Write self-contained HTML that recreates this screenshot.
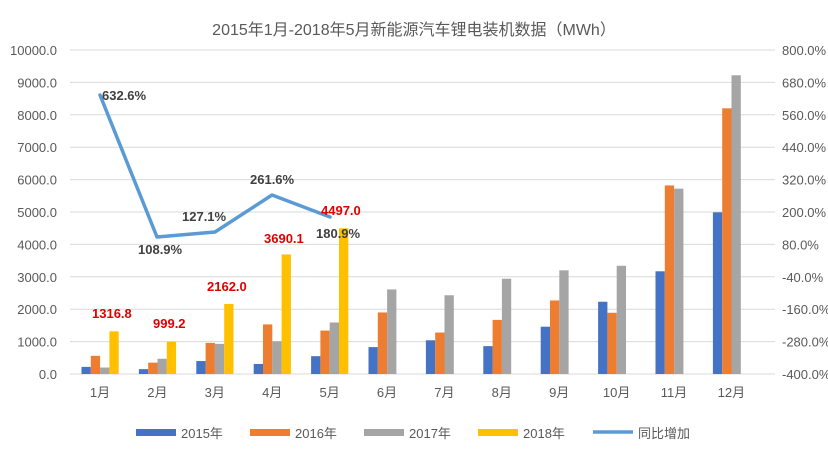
<!DOCTYPE html>
<html><head><meta charset="utf-8"><style>
body{margin:0;background:#fff}
svg text{font-family:"Liberation Sans","Noto Sans CJK SC",sans-serif}
</style></head><body>
<svg width="828" height="462" viewBox="0 0 828 462" xmlns="http://www.w3.org/2000/svg">
<rect width="828" height="462" fill="#fff"/>
<text x="414" y="35" font-size="16" fill="#595959" text-anchor="middle">2015年1月-2018年5月新能源汽车锂电装机数据（MWh）</text>
<g id="grid" stroke="#d9d9d9" stroke-width="1"></g>
<g id="bars"></g>
<g id="lab" font-size="13" fill="#595959"></g>
<polyline points="100,95 157,237 215,232 272,195 330,217" fill="none" stroke="#5b9bd5" stroke-width="3.5" stroke-linejoin="round" stroke-linecap="round"/>
<g font-size="13" font-weight="bold" fill="#404040">
<text x="102" y="100">632.6%</text>
<text x="138" y="254">108.9%</text>
<text x="182" y="221">127.1%</text>
<text x="250" y="184">261.6%</text>
<text x="316" y="238">180.9%</text>
</g>
<g font-size="13" font-weight="bold" fill="#e00000">
<text x="92" y="318">1316.8</text>
<text x="153" y="328">999.2</text>
<text x="207" y="291">2162.0</text>
<text x="264" y="243">3690.1</text>
<text x="321" y="215">4497.0</text>
</g>
<g font-size="13" fill="#595959">
<rect x="136" y="429" width="40" height="7" fill="#4472c4"/><text x="181" y="438">2015年</text>
<rect x="250" y="429" width="40" height="7" fill="#ed7d31"/><text x="295" y="438">2016年</text>
<rect x="364" y="429" width="40" height="7" fill="#a5a5a5"/><text x="409" y="438">2017年</text>
<rect x="478" y="429" width="40" height="7" fill="#ffc000"/><text x="523" y="438">2018年</text>
<line x1="593" y1="432" x2="633" y2="432" stroke="#5b9bd5" stroke-width="3.5"/><text x="638" y="438">同比增加</text>
</g>
</svg>
<script>
const ns="http://www.w3.org/2000/svg";
const g=document.getElementById('grid'),b=document.getElementById('bars'),l=document.getElementById('lab');
function el(p,t,a,txt){const e=document.createElementNS(ns,t);for(const k in a)e.setAttribute(k,a[k]);if(txt!=null)e.textContent=txt;p.appendChild(e);return e;}
const y0=374,s=32.4/1000;
for(let i=0;i<=10;i++){const y=y0-i*32.4;el(g,'line',{x1:70,x2:775,y1:y,y2:y});
el(l,'text',{x:57,y:y+5,'text-anchor':'end'},(i*1000).toFixed(1));
el(l,'text',{x:782,y:y+5},(-400+i*120).toFixed(1)+'%');}
const d=[[220,150,400,310,550,830,1040,860,1460,2230,3170,4990],
[560,350,960,1530,1340,1900,1280,1670,2270,1890,5820,8200],
[200,470,930,1010,1590,2610,2430,2940,3200,3340,5720,9220],
[1316.8,999.2,2162,3690.1,4497]];
const c=['#4472c4','#ed7d31','#a5a5a5','#ffc000'];
for(let m=0;m<12;m++){const cx=100+m*57.4;
for(let k=0;k<4;k++){const v=d[k][m];if(v==null)continue;const h=v*s;
el(b,'rect',{x:cx-18.5+k*9.3,y:y0-h,width:9.3,height:h,fill:c[k]});}
el(l,'text',{x:cx,y:397,'text-anchor':'middle'},(m+1)+'月');}
</script>
</body></html>
